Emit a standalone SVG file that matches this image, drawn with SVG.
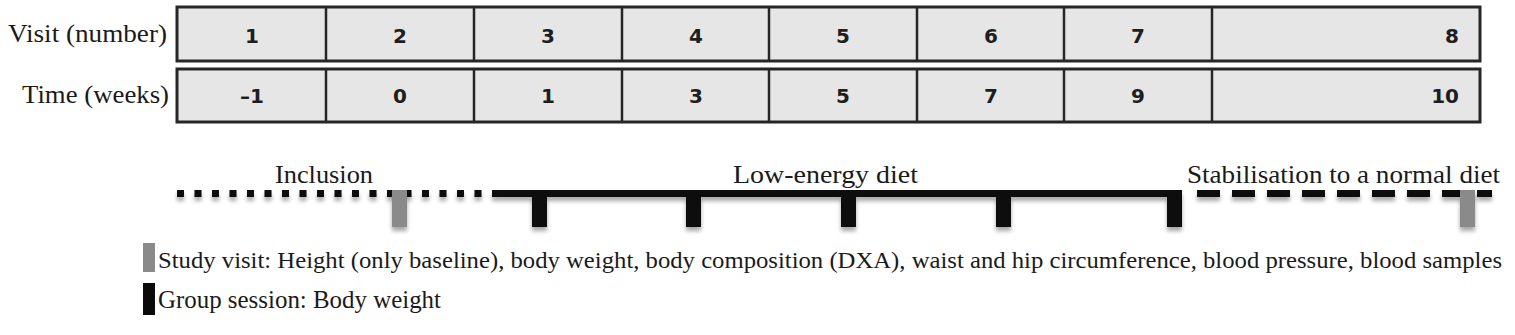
<svg xmlns="http://www.w3.org/2000/svg" width="1515" height="335" viewBox="0 0 1515 335">
  <defs>
    <filter id="shadow" x="-5%" y="-50%" width="110%" height="250%">
      <feGaussianBlur in="SourceAlpha" stdDeviation="2"/>
      <feOffset dx="0" dy="4" result="b"/>
      <feComponentTransfer><feFuncA type="linear" slope="0.35"/></feComponentTransfer>
      <feMerge><feMergeNode/><feMergeNode in="SourceGraphic"/></feMerge>
    </filter>
  </defs>
  <style>
    .cell { fill: #e6e6e6; stroke: #262626; stroke-width: 3; }
    .div { stroke: #262626; stroke-width: 2.5; }
    .num { font-family: "DejaVu Sans", Verdana, sans-serif; font-weight: bold; font-size: 20px; fill: #1e1e1e; text-anchor: middle; }
    .numr { font-family: "DejaVu Sans", Verdana, sans-serif; font-weight: bold; font-size: 20px; fill: #1e1e1e; text-anchor: end; }
    .lbl { font-family: "Liberation Serif", "Times New Roman", serif; font-size: 25px; fill: #1a1a1a; }
    .leg { font-family: "Liberation Serif", "Times New Roman", serif; font-size: 23px; fill: #1a1a1a; }
    .tick { fill: #0a0a0a; }
    .visit { fill: #8a8a8a; }
  </style>

  <g id="row-visit">
    <text class="lbl" x="8" y="42" textLength="159" lengthAdjust="spacingAndGlyphs">Visit (number)</text>
    <rect class="cell" x="177" y="7" width="1303" height="54"/>
    <line class="div" x1="326" y1="7" x2="326" y2="61"/>
    <line class="div" x1="474" y1="7" x2="474" y2="61"/>
    <line class="div" x1="622" y1="7" x2="622" y2="61"/>
    <line class="div" x1="769" y1="7" x2="769" y2="61"/>
    <line class="div" x1="917" y1="7" x2="917" y2="61"/>
    <line class="div" x1="1064" y1="7" x2="1064" y2="61"/>
    <line class="div" x1="1212" y1="7" x2="1212" y2="61"/>
    <text class="num" x="252" y="43">1</text>
    <text class="num" x="400" y="43">2</text>
    <text class="num" x="548" y="43">3</text>
    <text class="num" x="696" y="43">4</text>
    <text class="num" x="843" y="43">5</text>
    <text class="num" x="991" y="43">6</text>
    <text class="num" x="1138" y="43">7</text>
    <text class="numr" x="1459" y="43">8</text>
  </g>

  <g id="row-time">
    <text class="lbl" x="22" y="103" textLength="147" lengthAdjust="spacingAndGlyphs">Time (weeks)</text>
    <rect class="cell" x="177" y="69" width="1303" height="53"/>
    <line class="div" x1="326" y1="69" x2="326" y2="122"/>
    <line class="div" x1="474" y1="69" x2="474" y2="122"/>
    <line class="div" x1="622" y1="69" x2="622" y2="122"/>
    <line class="div" x1="769" y1="69" x2="769" y2="122"/>
    <line class="div" x1="917" y1="69" x2="917" y2="122"/>
    <line class="div" x1="1064" y1="69" x2="1064" y2="122"/>
    <line class="div" x1="1212" y1="69" x2="1212" y2="122"/>
    <text class="num" x="252" y="103">–1</text>
    <text class="num" x="400" y="103">0</text>
    <text class="num" x="548" y="103">1</text>
    <text class="num" x="696" y="103">3</text>
    <text class="num" x="843" y="103">5</text>
    <text class="num" x="991" y="103">7</text>
    <text class="num" x="1138" y="103">9</text>
    <text class="numr" x="1459" y="103">10</text>
  </g>

  <g id="phase-labels">
    <text class="lbl" x="275" y="183" textLength="98" lengthAdjust="spacingAndGlyphs">Inclusion</text>
    <text class="lbl" x="733" y="183" textLength="185" lengthAdjust="spacingAndGlyphs">Low-energy diet</text>
    <text class="lbl" x="1187" y="183" textLength="313" lengthAdjust="spacingAndGlyphs">Stabilisation  to a normal diet</text>
  </g>

  <g id="timeline" filter="url(#shadow)">
    <line x1="177" y1="193.5" x2="492" y2="193.5" stroke="#0a0a0a" stroke-width="7" stroke-dasharray="7 10.5"/>
    <line x1="492" y1="193.5" x2="1182" y2="193.5" stroke="#0a0a0a" stroke-width="7"/>
    <line x1="1197" y1="193.5" x2="1492" y2="193.5" stroke="#0a0a0a" stroke-width="7" stroke-dasharray="23 12"/>
    <rect class="visit" x="392" y="190" width="15" height="37"/>
    <rect class="tick" x="532" y="190" width="15" height="37"/>
    <rect class="tick" x="686" y="190" width="15" height="37"/>
    <rect class="tick" x="841" y="190" width="15" height="37"/>
    <rect class="tick" x="996" y="190" width="15" height="37"/>
    <rect class="tick" x="1167" y="190" width="15" height="37"/>
    <rect class="visit" x="1460" y="190" width="15" height="37"/>
  </g>

  <g id="legend-study-visit">
    <rect class="visit" x="143" y="243" width="12" height="29"/>
    <text class="leg" x="158" y="268" textLength="1344" lengthAdjust="spacingAndGlyphs">Study visit: Height (only baseline), body weight, body composition (DXA), waist and hip circumference, blood pressure, blood samples</text>
  </g>

  <g id="legend-group-session">
    <rect class="tick" x="143" y="283" width="12" height="32"/>
    <text class="lbl" x="158" y="308" textLength="283" lengthAdjust="spacingAndGlyphs">Group session: Body weight</text>
  </g>
</svg>
